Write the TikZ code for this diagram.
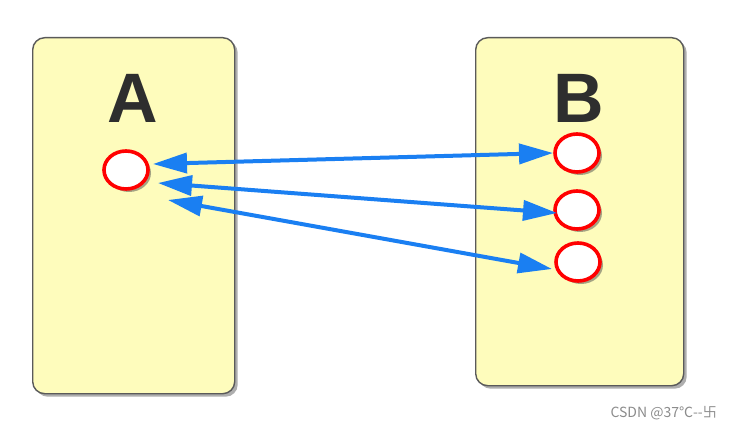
\documentclass[tikz,border=0pt]{standalone}
\usepackage{fontspec}
\setmainfont{Liberation Sans}
\newfontfamily\cjk{Noto Sans CJK SC}
\usetikzlibrary{shapes.geometric,arrows.meta,shadows}
\definecolor{boxfill}{HTML}{FEFCBC}
\definecolor{boxline}{HTML}{5A5A5A}
\definecolor{arrblue}{HTML}{1A7FF2}
\definecolor{letter}{HTML}{2E2E2E}
\tikzset{
  panel/.style={draw=boxline, line width=1.4pt, fill=boxfill, rounded corners=12pt,
    drop shadow={shadow xshift=3pt, shadow yshift=-3pt, opacity=0.45, fill=black!70}},
  slot/.style={ellipse, draw=red, line width=3.6pt, fill=white, minimum width=44pt, minimum height=38pt, inner sep=0pt,
    drop shadow={shadow xshift=3pt, shadow yshift=-3pt, opacity=0.5, fill=black!70}},
  biglabel/.style={font=\fontsize{70}{70}\selectfont\bfseries, text=letter, inner sep=0pt},
  link/.style={arrblue, line width=4pt, {Triangle[length=34pt,width=20pt]}-{Triangle[length=34pt,width=20pt]}},
  wmark/.style={font=\cjk\fontsize{14}{14}\selectfont, text=black!45, anchor=east, inner sep=0pt}
}
\begin{document}
\begin{tikzpicture}[x=1pt,y=-1pt]
\useasboundingbox (0,0) rectangle (730,430);
\fill[white] (0,0) rectangle (730,430);
\node[panel, minimum width=202pt, minimum height=356pt, anchor=north west, inner sep=0pt] (boxA) at (32,37) {};
\node[panel, minimum width=208pt, minimum height=348pt, anchor=north west, inner sep=0pt] (boxB) at (475,37) {};
\node[biglabel] (labA) at (133,98) {A};
\node[biglabel] (labB) at (579,98) {B};
\node[slot] (a) at (126,170) {};
\node[slot] (b1) at (577,153) {};
\node[slot] (b2) at (577,210) {};
\node[slot] (b3) at (578,262) {};
\coordinate (a1) at (153,164);
\coordinate (a2) at (158,183);
\coordinate (a3) at (168,200);
\coordinate (e1) at (553,153);
\coordinate (e2) at (557,213);
\coordinate (e3) at (552,269);
\draw[link] (a1) -- (e1);
\draw[link] (a2) -- (e2);
\draw[link] (a3) -- (e3);
\node[wmark] (wm) at (717,413) {CSDN @37℃--卐};
\end{tikzpicture}
\end{document}
